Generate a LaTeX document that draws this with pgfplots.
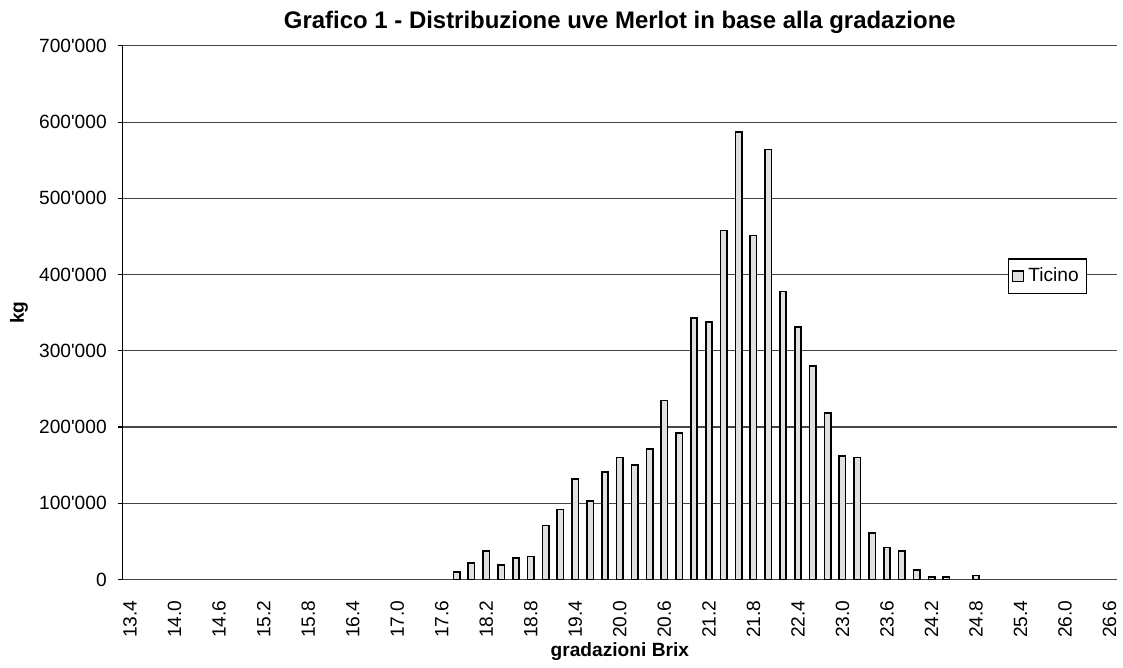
\documentclass[border=0pt]{standalone}
\usepackage{fontspec}
\setmainfont{Liberation Sans}
\usepackage{pgfplots}
\usetikzlibrary{calc}
\pgfplotsset{compat=1.18}
\definecolor{barfill}{RGB}{224,224,224}
\definecolor{gridc}{RGB}{70,70,70}
\begin{document}
\begin{tikzpicture}
\begin{axis}[
  scale only axis,
  width=498.5bp, height=267.5bp,
  xmin=13.3, xmax=26.7,
  ymin=0, ymax=700000,
  axis x line*=bottom, axis y line*=left,
  axis line style={black, line width=0.6bp, -},
  x axis line style={draw=gridc},
  ybar, bar width=3.2bp,
  xtick={13.4,14.0,14.6,15.2,15.8,16.4,17.0,17.6,18.2,18.8,19.4,20.0,20.6,21.2,21.8,22.4,23.0,23.6,24.2,24.8,25.4,26.0,26.6},
  xticklabels={13.4,14.0,14.6,15.2,15.8,16.4,17.0,17.6,18.2,18.8,19.4,20.0,20.6,21.2,21.8,22.4,23.0,23.6,24.2,24.8,25.4,26.0,26.6},
  x tick label style={rotate=90, anchor=east, font=\fontsize{9.6bp}{11bp}\selectfont},
  xtick style={draw=none},
  ytick={0,100000,200000,300000,400000,500000,600000,700000},
  yticklabels={0,100\textquotesingle000,200\textquotesingle000,300\textquotesingle000,400\textquotesingle000,500\textquotesingle000,600\textquotesingle000,700\textquotesingle000},
  y tick label style={font=\fontsize{9.6bp}{11bp}\selectfont},
  scaled y ticks=false,
  tick align=outside,
  major tick length=2.5bp,
  ytick style={black, line width=0.6bp},
  ymajorgrids,
  grid style={gridc, line width=0.6bp},
  xticklabel shift=4.5bp,
  yticklabel shift=2bp,
  every axis title shift=0pt,
  title={\textbf{Grafico 1 - Distribuzione uve Merlot in base alla gradazione}},
  title style={at={(axis description cs:0.5,1.0439)}, anchor=center, font=\fontsize{12bp}{14bp}\selectfont},
  xlabel={\textbf{gradazioni Brix}},
  xlabel style={at={(axis description cs:0.5,-0.136)}, anchor=center, font=\fontsize{9.6bp}{11bp}\selectfont},
  ylabel={\textbf{kg}},
  ylabel style={at={(axis description cs:-0.1043,0.5)}, anchor=center, rotate=0, font=\fontsize{9.6bp}{11bp}\selectfont},
  legend style={at={(axis description cs:0.930,0.568)}, anchor=center, draw=black, fill=white, line width=0.6bp, font=\fontsize{9.6bp}{11bp}\selectfont, inner xsep=2bp, inner ysep=2.5bp},
  legend image code/.code={\draw[fill=barfill, draw=black, line width=0.6bp] (0bp,-2.75bp) rectangle (5.5bp,2.75bp);},
  clip=false,
]
\addplot[fill=barfill, draw=black, line width=0.8bp] table[x=x, y=y] {
x y
17.8 10000
18.0 21900
18.2 37500
18.4 18700
18.6 28500
18.8 30000
19.0 71000
19.2 92000
19.4 132000
19.6 103000
19.8 141000
20.0 160000
20.2 150000
20.4 171000
20.6 235000
20.8 192000
21.0 343000
21.2 338000
21.4 458000
21.6 587000
21.8 451000
22.0 564000
22.2 378000
22.4 331000
22.6 280000
22.8 218000
23.0 162000
23.2 160000
23.4 61000
23.6 42000
23.8 37500
24.0 12500
24.2 3000
24.4 3000
24.8 5000
};
\addlegendentry{Ticino}
\end{axis}
\path ($(current axis.south west)+(-61.5bp,-42.5bp)$) rectangle ($(current axis.north east)+(1.5bp,23bp)$);
\end{tikzpicture}
\end{document}
